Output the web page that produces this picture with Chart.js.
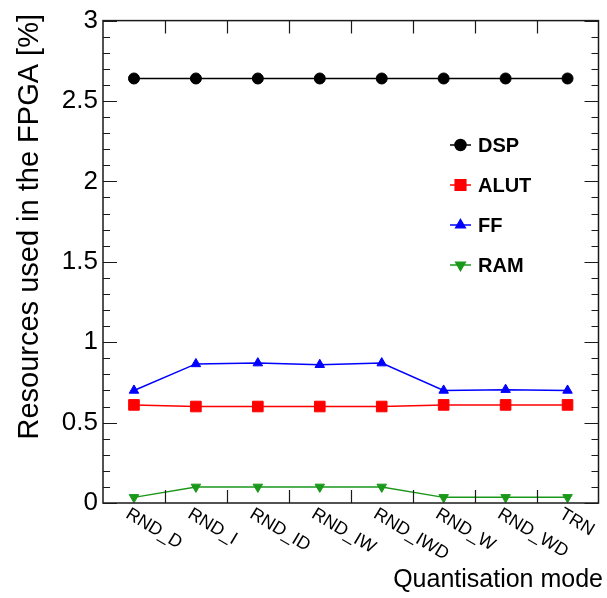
<!DOCTYPE html>
<html>
<head>
<meta charset="utf-8">
<script src="https://cdn.jsdelivr.net/npm/chart.js@4.4.1/dist/chart.umd.min.js"></script>
<style>
  html, body { margin: 0; padding: 0; background: #ffffff; }
  #wrap { width: 607px; height: 598px; }
</style>
</head>
<body>
<div id="wrap"><canvas id="c" width="607" height="598"></canvas></div>
<script>
// Quantisation modes along the x axis
const modes = ['RND_D', 'RND_I', 'RND_ID', 'RND_IW', 'RND_IWD', 'RND_W', 'RND_WD', 'TRN'];

// FPGA resource usage per mode, in percent
const dspUse  = [2.64, 2.64, 2.64, 2.64, 2.64, 2.64, 2.64, 2.64];
const alutUse = [0.61, 0.60, 0.60, 0.60, 0.60, 0.61, 0.61, 0.61];
const ffUse   = [0.70, 0.865, 0.87, 0.86, 0.87, 0.70, 0.705, 0.70];
const ramUse  = [0.035, 0.10, 0.10, 0.10, 0.10, 0.035, 0.035, 0.035];

const seriesNames = ['DSP', 'ALUT', 'FF', 'RAM'];
const yTickValues = [0, 0.5, 1, 1.5, 2, 2.5, 3];
const yTitle = 'Resources used in the FPGA [%]';
const xTitle = 'Quantisation mode';

const FONT = "'Liberation Sans', Arial, Helvetica, sans-serif";
const GREEN = '#1a981a';

// Frame, inward ticks, slanted category labels, axis titles and the inset legend
const rootStyle = {
  id: 'rootStyle',
  afterDraw(chart) {
    const ctx = chart.ctx;
    const a = chart.chartArea;
    const xs = chart.scales.x;
    const ys = chart.scales.y;
    ctx.save();

    // frame
    ctx.strokeStyle = '#1a1a1a';
    ctx.lineWidth = 1.5;
    ctx.strokeRect(a.left, a.top, a.right - a.left, a.bottom - a.top);

    // y ticks: majors every 0.5, minors every 0.1, on both sides
    ctx.lineWidth = 1.2;
    ctx.beginPath();
    for (let i = 0; i <= 30; i++) {
      const y = Math.round(ys.getPixelForValue(i / 10)) + 0.5;
      const len = (i % 5 === 0) ? 14 : 7;
      ctx.moveTo(a.left, y); ctx.lineTo(a.left + len, y);
      ctx.moveTo(a.right, y); ctx.lineTo(a.right - len, y);
    }
    // x ticks at the boundaries between categories, bottom and top
    for (let i = 1; i < modes.length; i++) {
      const x = Math.round((xs.getPixelForValue(i - 1) + xs.getPixelForValue(i)) / 2) + 0.5;
      ctx.moveTo(x, a.bottom); ctx.lineTo(x, a.bottom - 13);
      ctx.moveTo(x, a.top); ctx.lineTo(x, a.top + 13);
    }
    ctx.stroke();

    // category labels, slanted downwards to the right
    ctx.fillStyle = '#000';
    ctx.font = '18px ' + FONT;
    ctx.textAlign = 'left';
    ctx.textBaseline = 'top';
    modes.forEach((m, i) => {
      const x = xs.getPixelForValue(i);
      ctx.save();
      ctx.translate(x - 2, a.bottom + 2);
      ctx.rotate(31 * Math.PI / 180);
      ctx.fillText(m, 0, 0);
      ctx.restore();
    });

    // axis titles, aligned to the far end of each axis
    ctx.font = '29px ' + FONT;
    ctx.save();
    ctx.translate(30, 14);
    ctx.rotate(-Math.PI / 2);
    ctx.textAlign = 'right';
    ctx.textBaseline = 'middle';
    ctx.fillText(yTitle, 0, 0);
    ctx.restore();

    ctx.font = '25px ' + FONT;
    ctx.textAlign = 'right';
    ctx.textBaseline = 'alphabetic';
    ctx.fillText(xTitle, 603, 587);

    // legend
    chart.data.datasets.forEach((ds, i) => {
      const y = 145 + 40 * i;
      ctx.strokeStyle = ds.borderColor;
      ctx.lineWidth = 1.5;
      ctx.beginPath();
      ctx.moveTo(450, y); ctx.lineTo(471, y);
      ctx.stroke();
      ctx.fillStyle = ds.pointBackgroundColor;
      ctx.strokeStyle = ds.pointBorderColor;
      Chart.helpers.drawPoint(ctx, {
        pointStyle: ds.pointStyle,
        rotation: ds.pointRotation || 0,
        radius: ds.pointRadius,
        borderWidth: 1
      }, 460.5, y);
      ctx.fillStyle = '#000';
      ctx.font = 'bold 20px ' + FONT;
      ctx.textAlign = 'left';
      ctx.textBaseline = 'middle';
      ctx.fillText(ds.label, 478, y + 1);
    });

    ctx.restore();
  }
};

function series(label, data, color, style, radius, rotation) {
  return {
    label, data,
    borderColor: color,
    backgroundColor: color,
    pointBackgroundColor: color,
    pointBorderColor: color,
    pointBorderWidth: 1,
    pointStyle: style,
    pointRadius: radius,
    pointRotation: rotation,
    borderWidth: 1.5,
    tension: 0,
    fill: false
  };
}

new Chart(document.getElementById('c'), {
  type: 'line',
  data: {
    labels: modes,
    datasets: [
      series(seriesNames[0], dspUse,  '#000000', 'circle',   5.5, 0),
      series(seriesNames[1], alutUse, '#ff0000', 'rect',     7.5, 0),
      series(seriesNames[2], ffUse,   '#0000ff', 'triangle', 5.5, 0),
      series(seriesNames[3], ramUse,  GREEN,     'triangle', 5.5, 180)
    ]
  },
  options: {
    responsive: false,
    animation: false,
    devicePixelRatio: 1,
    layout: { padding: { left: 0, top: 20, right: 3, bottom: 0 } },
    plugins: { legend: { display: false }, tooltip: { enabled: false } },
    scales: {
      x: {
        type: 'category',
        offset: true,
        grid: { display: false, drawTicks: false },
        border: { display: false },
        ticks: { display: false },
        afterFit(s) { s.height = 95; }
      },
      y: {
        min: 0,
        max: 3,
        afterBuildTicks(s) { s.ticks = yTickValues.map(v => ({ value: v })); },
        grid: { display: false, drawTicks: false },
        border: { display: false },
        ticks: {
          color: '#000',
          padding: 5,
          font: { family: FONT, size: 26 },
          callback: v => String(v)
        },
        afterFit(s) { s.width = 103; }
      }
    }
  },
  plugins: [rootStyle]
});
</script>
</body>
</html>
